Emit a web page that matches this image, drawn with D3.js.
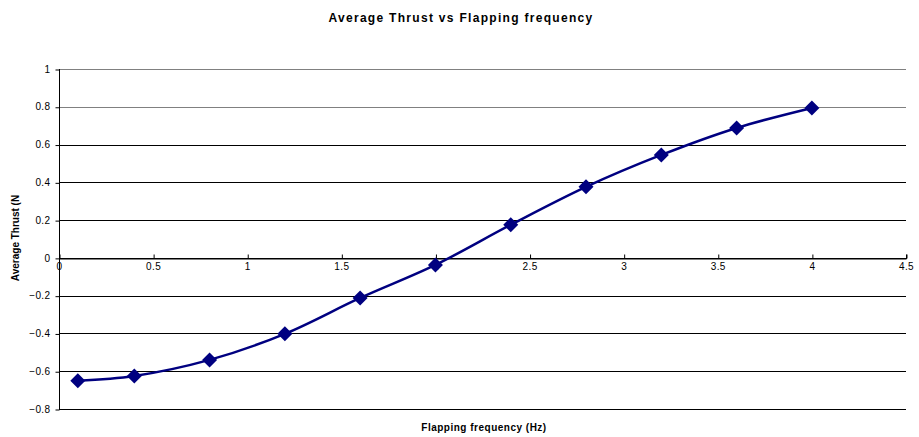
<!DOCTYPE html>
<html><head><meta charset="utf-8">
<script src="https://cdn.jsdelivr.net/npm/d3@7"></script>
<style>body{margin:0;background:#fff}svg{display:block}text{font-family:"Liberation Sans",Arial,sans-serif}</style>
</head><body><svg id="c" width="919" height="437"></svg>
<script>
const frequency = [0.1, 0.4, 0.8, 1.2, 1.6, 2.0, 2.4, 2.8, 3.2, 3.6, 4.0];
const thrust = [-0.65, -0.625, -0.54, -0.402, -0.212, -0.037, 0.175, 0.376, 0.545, 0.688, 0.794];
const xTicks = [0, 0.5, 1, 1.5, 2, 2.5, 3, 3.5, 4, 4.5];
const yTicks = [-0.8, -0.6, -0.4, -0.2, 0, 0.2, 0.4, 0.6, 0.8, 1];

const svg = d3.select("#c");
const x = d3.scaleLinear().domain([0, 4.5]).range([59, 906]);
const y = d3.scaleLinear().domain([-0.8, 1]).range([409, 69]);

// gridlines
svg.append("g").selectAll("line").data(yTicks).join("line")
  .attr("x1", x(0)).attr("x2", x(4.5))
  .attr("y1", d => Math.round(y(d)) + 0.5).attr("y2", d => Math.round(y(d)) + 0.5)
  .attr("stroke", d => d >= 0.8 ? "#808080" : "#000").attr("stroke-width", 1);

// y axis
const yAxis = d3.axisLeft(y).tickValues(yTicks).tickSize(4).tickPadding(5).tickFormat(d3.format("~g"));
const gy = svg.append("g").attr("transform", `translate(${x(0)+0.5},0)`).call(yAxis);
gy.select(".domain").attr("stroke", "#000").attr("d", `M0,${y(1)}V${Math.round(y(-0.8))+0.5}`);
gy.selectAll(".tick line").attr("stroke", "#000").attr("transform", "translate(0,0.5)");
gy.selectAll("text").attr("font-size", 10).attr("letter-spacing", "0.4px").attr("fill", "#000").style("font-family", "Liberation Sans, Arial, sans-serif");

// x axis at y=0
const xAxis = d3.axisBottom(x).tickValues(xTicks).tickSize(-4).tickPadding(10).tickFormat(d3.format("~g"));
const gx = svg.append("g").attr("transform", `translate(0,${Math.round(y(0))+0.5})`).call(xAxis);
gx.select(".domain").attr("stroke", "#000");
gx.selectAll(".tick line").attr("stroke", "#000").attr("transform", "translate(0.5,0)");
gx.selectAll("text").attr("font-size", 10).attr("letter-spacing", "0.4px").attr("fill", "#000").attr("dy", "0.1em").style("font-family", "Liberation Sans, Arial, sans-serif");

// line
const pts = frequency.map((f, i) => [f, thrust[i]]);
svg.append("path").datum(pts)
  .attr("d", d3.line().x(d => x(d[0])).y(d => y(d[1])).curve(d3.curveCatmullRom.alpha(0.5)))
  .attr("fill", "none").attr("stroke", "#000080").attr("stroke-width", 2.5);

// markers
svg.append("g").selectAll("path").data(pts).join("path")
  .attr("transform", d => `translate(${x(d[0])},${y(d[1])})`)
  .attr("d", "M0,-7.5L7.5,0L0,7.5L-7.5,0Z").attr("fill", "#000080");

// titles
svg.append("text").attr("x", 461).attr("y", 22).attr("text-anchor", "middle")
  .attr("font-size", 12).attr("font-weight", "bold").attr("letter-spacing", "1.3px").text("Average Thrust vs Flapping frequency");
svg.append("text").attr("x", 484).attr("y", 431).attr("text-anchor", "middle")
  .attr("font-size", 10).attr("font-weight", "bold").attr("letter-spacing", "0.5px").text("Flapping frequency (Hz)");
svg.append("text").attr("transform", "translate(19,238) rotate(-90)").attr("text-anchor", "middle")
  .attr("font-size", 10).attr("font-weight", "bold").text("Average Thrust (N");
</script></body></html>
